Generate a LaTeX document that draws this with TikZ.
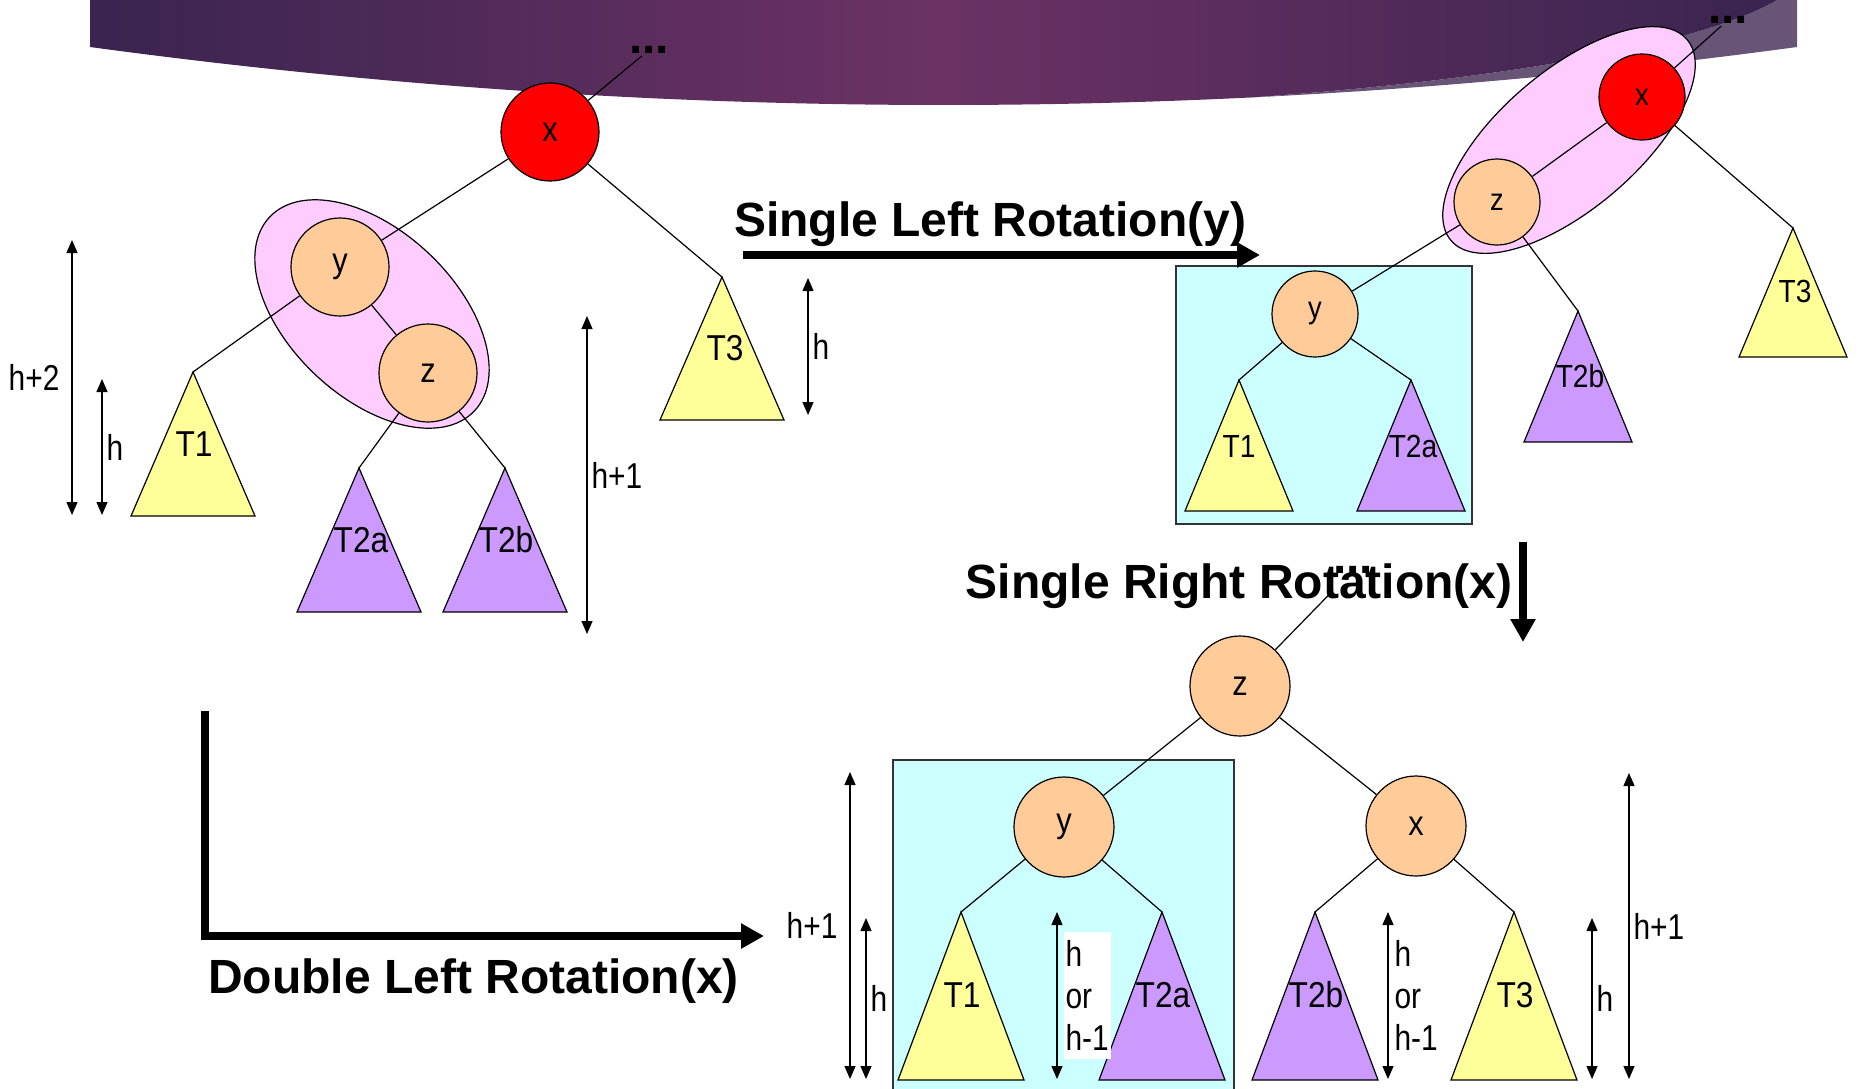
\documentclass[tikz,border=0pt]{standalone}
\usepackage{fontspec}
\setmainfont{Liberation Sans}
\newfontfamily\lblfont[FakeStretch=0.83]{Liberation Sans}
\newfontfamily\treefont[FakeStretch=0.88]{Liberation Sans}
\usetikzlibrary{shapes.geometric,positioning,arrows.meta,calc}

\definecolor{bannerdark}{RGB}{58,36,80}
\definecolor{bannermid}{RGB}{108,50,100}
\definecolor{bannerband}{RGB}{104,84,118}
\definecolor{rootred}{RGB}{255,0,0}
\definecolor{peach}{RGB}{255,204,153}
\definecolor{grppink}{RGB}{255,204,255}
\definecolor{boxcyan}{RGB}{204,255,255}
\definecolor{treeyellow}{RGB}{255,255,153}
\definecolor{treepurple}{RGB}{204,153,255}

\begin{document}
\begin{tikzpicture}[
    x=0.5pt, y=-0.5pt,
    vtx/.style={circle, draw, fill=peach, inner sep=0pt, line width=0.6pt, font=\treefont\fontsize{17.5}{20}\selectfont},
    root/.style={vtx, fill=rootred},
    grp/.style={ellipse, draw, fill=grppink, inner sep=0pt, line width=0.6pt},
    hilite/.style={rectangle, draw=black!80, fill=boxcyan, inner sep=0pt, line width=0.6pt},
    yellowtree/.style={draw, fill=treeyellow, line width=0.6pt},
    purpletree/.style={draw, fill=treepurple, line width=0.6pt},
    tlbl/.style={font=\treefont\fontsize{18}{21}\selectfont, inner sep=0pt},
    link/.style={line width=0.6pt},
    dots/.style={font=\bfseries\fontsize{24}{28}\selectfont, inner sep=1pt},
    dim/.style={{Triangle[length=6.5pt,width=5.5pt]}-{Triangle[length=6.5pt,width=5.5pt]}, line width=0.6pt},
    dimlbl/.style={font=\lblfont\fontsize{18}{21}\selectfont, inner sep=2pt},
    title/.style={font=\bfseries\fontsize{24}{28}\selectfont, anchor=base, inner sep=0pt},
    bigarrow/.style={-{Triangle[length=11.5pt,width=12pt]}, line width=3.75pt},
]
\useasboundingbox (0,0) rectangle (1864,1088);

% banner across the top
\fill[bannerband] (1250,97.5) .. controls (1500,80) and (1700,45) .. (1777,0) -- (1797,0) -- (1797,47) .. controls (1614.6,71.7) and (1432.5,88.6) .. (1250,97.5) -- cycle;
\shade[left color=bannerdark, right color=bannerdark, middle color=bannermid] (90,0) -- (1777,0) .. controls (1700,45) and (1500,80) .. (1250,97.5) .. controls (863.4,116.4) and (476.7,99.5) .. (90,47) -- cycle;

% highlighted subtrees
\node[hilite, minimum width=148pt, minimum height=129pt] (boxB) at (1324,395) {};
\node[hilite, minimum width=170.5pt, minimum height=170pt] (boxC) at (1063.5,930) {};

% before: x with right-heavy child y
\node[grp, minimum width=141pt, minimum height=83pt, rotate=-43.5] (grpA) at (372,314) {};
\node[root, minimum size=49pt] (xA) at (550,132) {x};
\node[vtx, minimum size=49pt] (yA) at (340,267) {y};
\node[vtx, minimum size=49pt] (zA) at (428,373) {z};
\node[dots] (dotsA) at (649,50) {...};
\coordinate (T1A) at (193,372);
\coordinate (T2aA) at (359,468);
\coordinate (T2bA) at (505,468);
\coordinate (T3A) at (722,277);

\draw[link] (xA) -- (dotsA);
\draw[link] (xA) -- (yA);
\draw[link] (xA) -- (T3A);
\draw[link] (yA) -- (zA);
\draw[link] (yA) -- (T1A);
\draw[link] (zA) -- (T2aA);
\draw[link] (zA) -- (T2bA);

\draw[yellowtree] (T1A) -- ++(-62,144) -- ++(124,0) -- cycle;
\draw[purpletree] (T2aA) -- ++(-62,144) -- ++(124,0) -- cycle;
\draw[purpletree] (T2bA) -- ++(-62,144) -- ++(124,0) -- cycle;
\draw[yellowtree] (T3A) -- ++(-62,143) -- ++(124,0) -- cycle;
\node[tlbl] (lblT1A) at (194,444) {T1};
\node[tlbl] (lblT2aA) at (361,540) {T2a};
\node[tlbl] (lblT2bA) at (506,540) {T2b};
\node[tlbl] (lblT3A) at (725,348) {T3};

\draw[dim] (72,240) -- (72,515) node[dimlbl, midway, left=4pt] (lblHtwoA) {h+2};
\draw[dim] (102,379) -- (102,515) node[dimlbl, midway, right] (lblHA) {h};
\draw[dim] (587,316) -- (587,634) node[dimlbl, midway, right] (lblHoneA) {h+1};
\draw[dim] (808,278) -- (808,415) node[dimlbl, midway, right] (lblHthreeA) {h};

% after single left rotation of y
\node[grp, minimum width=155pt, minimum height=69pt, rotate=40.4] (grpB) at (1569,140) {};
\node[root, minimum size=43pt, font=\treefont\fontsize{15.5}{18}\selectfont] (xB) at (1642,97) {x};
\node[vtx, minimum size=43pt, font=\treefont\fontsize{15.5}{18}\selectfont] (zB) at (1497,202) {z};
\node[vtx, minimum size=43pt, font=\treefont\fontsize{15.5}{18}\selectfont] (yB) at (1315,314) {y};
\node[dots] (dotsB) at (1728,20) {...};
\coordinate (T1B) at (1239,380);
\coordinate (T2aB) at (1411,380);
\coordinate (T2bB) at (1578,311);
\coordinate (T3B) at (1793,228);

\draw[link] (xB) -- (dotsB);
\draw[link] (xB) -- (zB);
\draw[link] (xB) -- (T3B);
\draw[link] (zB) -- (yB);
\draw[link] (zB) -- (T2bB);
\draw[link] (yB) -- (T1B);
\draw[link] (yB) -- (T2aB);

\draw[yellowtree] (T1B) -- ++(-54,131) -- ++(108,0) -- cycle;
\draw[purpletree] (T2aB) -- ++(-54,131) -- ++(108,0) -- cycle;
\draw[purpletree] (T2bB) -- ++(-54,131) -- ++(108,0) -- cycle;
\draw[yellowtree] (T3B) -- ++(-54,129) -- ++(108,0) -- cycle;
\node[tlbl, font=\treefont\fontsize{16}{19}\selectfont] (lblT1B) at (1239,446) {T1};
\node[tlbl, font=\treefont\fontsize{16}{19}\selectfont] (lblT2aB) at (1413,446) {T2a};
\node[tlbl, font=\treefont\fontsize{16}{19}\selectfont] (lblT2bB) at (1580,376) {T2b};
\node[tlbl, font=\treefont\fontsize{16}{19}\selectfont] (lblT3B) at (1795,291) {T3};

% after single right rotation of x
\node[vtx, minimum size=50pt] (zC) at (1240,686) {z};
\node[vtx, minimum size=50pt] (yC) at (1064,827) {y};
\node[vtx, minimum size=50pt] (xC) at (1416,826) {x};
\node[dots] (dotsC) at (1353,570) {...};
\coordinate (T1C) at (961,912);
\coordinate (T2aC) at (1162,912);
\coordinate (T2bC) at (1315,912);
\coordinate (T3C) at (1514,912);

\draw[link, shorten >=12pt] (zC) -- (dotsC);
\draw[link] (zC) -- (yC);
\draw[link] (zC) -- (xC);
\draw[link] (yC) -- (T1C);
\draw[link] (yC) -- (T2aC);
\draw[link] (xC) -- (T2bC);
\draw[link] (xC) -- (T3C);

\draw[yellowtree] (T1C) -- ++(-63,168) -- ++(126,0) -- cycle;
\draw[purpletree] (T2aC) -- ++(-63,168) -- ++(126,0) -- cycle;
\draw[purpletree] (T2bC) -- ++(-63,168) -- ++(126,0) -- cycle;
\draw[yellowtree] (T3C) -- ++(-63,168) -- ++(126,0) -- cycle;
\node[tlbl] (lblT1C) at (962,995) {T1};
\node[tlbl] (lblT2aC) at (1163,995) {T2a};
\node[tlbl] (lblT2bC) at (1316,995) {T2b};
\node[tlbl] (lblT3C) at (1515,995) {T3};

\draw[dim] (850,772) -- (850,1079) node[dimlbl, midway, left=4pt] (lblHoneC) {h+1};
\draw[dim] (866,918) -- (866,1079) node[dimlbl, midway, right] (lblHC) {h};
\draw[dim] (1057,912) -- (1057,1079) node[dimlbl, midway, right=3pt, fill=white, align=left, inner xsep=1pt, inner ysep=4pt] (lblHorC) {h\\or\\h-1};
\draw[dim] (1388,912) -- (1388,1079) node[dimlbl, midway, right=1pt, align=left] (lblHorD) {h\\or\\h-1};
\draw[dim] (1592,918) -- (1592,1079) node[dimlbl, midway, right] (lblHthreeC) {h};
\draw[dim] (1629,773) -- (1629,1079) node[dimlbl, midway, right] (lblHtwoC) {h+1};

% rotation arrows
\node[title] (ttlLeft) at (990,236) {Single Left Rotation(y)};
\coordinate (slStart) at (743,255);
\coordinate (slEnd) at (1260,255);
\draw[bigarrow] (slStart) -- (slEnd);

\node[title] (ttlRight) at (1239,598) {Single Right Rotation(x)};
\coordinate (srStart) at (1523,542);
\coordinate (srEnd) at (1523,642);
\draw[bigarrow] (srStart) -- (srEnd);

\node[title] (ttlDouble) at (473.5,993) {Double Left Rotation(x)};
\coordinate (dlStart) at (205,711);
\coordinate (dlEnd) at (764,936);
\draw[bigarrow] (dlStart) |- (dlEnd);

\end{tikzpicture}
\end{document}
